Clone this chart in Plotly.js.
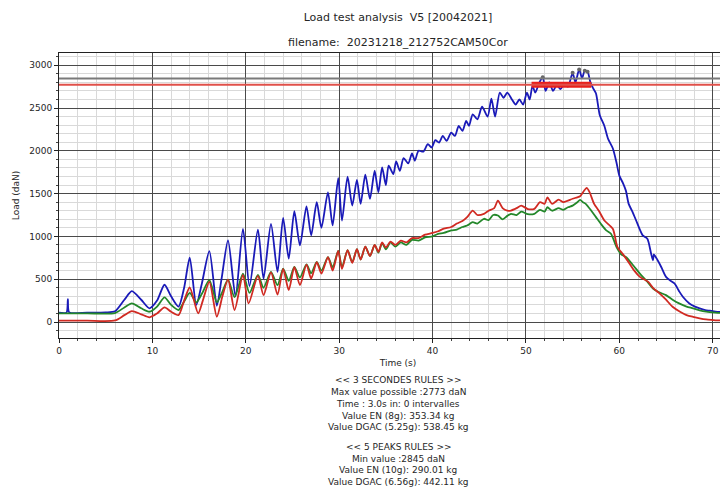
<!DOCTYPE html>
<html>
<head>
<meta charset="utf-8">
<script src="https://cdn.plot.ly/plotly-3.0.1.min.js"></script>
<style>
html,body{margin:0;padding:0;overflow:hidden;background:#fff;width:720px;height:488px;}
#chart{width:760px;height:488px;}
</style>
</head>
<body>
<div id="chart"></div>
<script>
// ---- data ----
const blueT = [0,0.8,0.95,1.1,3,5,6.0,7.0,7.8,8.8,9.7,10.5,11.3,12.0,12.8,13.4,14.0,14.7,15.3,16.1,16.9,17.4,18.1,18.9,19.7,20.4,21.3,21.9,22.7,23.4,24.0,24.6,25.2,25.8,26.5,27.0,27.6,28.1,28.8,29.3,29.9,30.3,30.9,31.4,31.9,32.3,32.8,33.3,33.8,34.2,34.6,35.0,35.3,35.8,36.1,36.5,36.9,37.4,37.8,38.1,38.5,39.0,39.5,39.9,40.3,40.7,41.1,41.5,42.0,42.4,42.8,43.2,43.6,43.9,44.3,44.8,45.3,45.9,46.3,46.7,47.2,47.6,48.0,48.5,48.9,49.3,49.7,50.1,50.4,50.7,51.0,51.4,51.8,52.1,52.5,52.9,53.3,53.7,54.1,54.5,55.0,55.3,55.7,56.0,56.3,56.6,56.9,57.2,57.5,57.9,58.4,58.8,59.3,59.7,60.0,60.4,60.7,61.0,61.4,61.8,62.5,63.0,63.4,63.6,63.7,64.1,64.5,65.0,65.5,65.9,66.4,66.8,67.5,68.1,68.6,69.2,69.7,70.3,71.0,72.6];
const blueV = [108,110,267,112,110,112,125,260,360,260,160,250,435,300,180,400,752,200,450,829,190,500,953,300,1089,420,1078,508,1147,585,1217,740,1294,895,1352,1012,1399,1101,1515,1128,1680,1186,1698,1360,1659,1380,1721,1438,1767,1515,1806,1600,1826,1729,1876,1767,1915,1853,1969,1884,2000,1990,2078,2039,2124,2097,2174,2116,2213,2174,2291,2233,2349,2291,2427,2368,2515,2400,2610,2400,2680,2620,2680,2600,2540,2600,2540,2680,2600,2760,2680,2790,2860,2700,2800,2700,2770,2720,2780,2750,2911,2800,2950,2850,2935,2925,2800,2730,2670,2420,2290,2140,2030,1860,1710,1620,1535,1380,1290,1186,1012,973,800,721,790,721,640,527,480,450,360,295,217,180,159,140,132,122,118,115];

const greenT = [0,3,6.0,7.0,7.8,8.8,9.7,10.5,11.3,12.0,12.8,13.4,14.0,14.7,15.3,16.1,16.9,17.4,18.1,18.8,19.7,20.4,21.3,21.9,22.7,23.4,24.0,24.6,25.2,25.8,26.5,27.0,27.6,28.1,28.8,29.3,29.9,30.3,30.9,31.4,31.9,32.3,32.8,33.3,33.8,34.2,34.6,35.0,35.5,36.0,36.6,37.2,37.8,38.5,39.2,40.0,40.6,41.2,42.0,42.6,43.2,43.7,44.3,44.8,45.5,46.0,46.5,47.0,47.5,48.0,48.4,49.0,49.5,50.2,50.9,51.5,52.0,52.3,52.8,53.5,54.0,54.5,55.0,55.5,55.8,56.1,56.4,57.0,57.5,58.0,58.6,59.1,59.7,60.2,60.7,61.5,62.2,63.0,63.6,64.2,65.0,65.7,66.4,67.2,67.9,68.6,69.3,70.3,71.0,72.6];
const greenV = [100,101,105,170,217,160,120,180,287,200,140,240,341,230,330,490,230,330,495,290,566,340,550,400,585,430,624,480,643,520,674,570,701,600,759,640,830,640,840,700,850,730,880,770,900,810,920,850,930,880,930,900,960,950,990,1000,1030,1040,1070,1080,1110,1128,1166,1150,1206,1190,1250,1244,1200,1240,1264,1250,1290,1260,1264,1310,1290,1341,1300,1330,1310,1341,1360,1399,1426,1400,1380,1300,1225,1150,1070,1031,876,791,759,660,566,470,392,350,314,260,217,180,159,135,120,110,106,104];

const redT = [0,3,6.0,7.0,7.8,8.8,9.7,10.5,11.3,12.0,12.8,13.4,14.0,14.9,15.4,16.1,16.9,17.5,18.1,18.8,19.7,20.3,21.3,21.9,22.7,23.4,24.0,24.6,25.2,25.8,26.5,27.0,27.6,28.1,28.8,29.3,29.9,30.3,30.9,31.4,31.9,32.3,32.8,33.3,33.8,34.2,34.6,35.0,35.5,36.0,36.6,37.2,37.8,38.5,39.2,40.0,40.6,41.2,42.0,42.6,43.2,43.7,44.3,44.8,45.5,46.0,46.6,47.0,47.5,48.0,48.4,49.0,49.5,50.2,50.9,51.5,52.0,52.3,52.8,53.5,54.0,54.5,55.0,55.5,55.8,56.2,56.5,56.8,57.3,57.8,58.4,59.3,59.8,60.4,61.1,61.6,62.2,63.1,63.6,64.3,65.0,65.7,66.5,67.2,67.9,68.6,69.3,70.0,70.3,71.0,72.6];
const redV = [15,15,18,80,128,90,55,100,171,120,81,250,403,101,250,469,62,300,495,140,550,217,540,314,580,320,620,372,640,430,670,508,700,566,759,600,830,620,840,690,850,730,880,770,900,820,930,870,940,900,950,930,980,980,1020,1040,1060,1090,1110,1150,1180,1225,1302,1250,1264,1300,1330,1419,1330,1300,1302,1330,1360,1320,1322,1400,1380,1457,1380,1430,1400,1419,1440,1457,1470,1530,1566,1520,1380,1300,1186,1089,876,790,682,600,527,469,400,334,260,178,120,81,60,43,30,23,20,18,16];

const maxPossible = 2773;   // 3 seconds rule
const minValue = 2845;      // 5 peaks rule
const bandT = [50.6, 57.0];
const peakT = [51.8, 55.0, 55.7, 56.3, 56.6];
const peakV = [2860, 2911, 2950, 2935, 2925];

const titleLine1 = "Load test analysis  V5 [20042021]";
const titleLine2 = "filename:  20231218_212752CAM50Cor";
const xLabel = "Time (s)";
const yLabel = "Load (daN)";
const infoLines = [
  "<< 3 SECONDES RULES >>",
  "Max value possible :2773 daN",
  "Time : 3.0s in: 0 intervalles",
  "Value EN (8g): 353.34 kg",
  "Value DGAC (5.25g): 538.45 kg",
  "",
  "<< 5 PEAKS RULES >>",
  "Min value :2845 daN",
  "Value EN (10g): 290.01 kg",
  "Value DGAC (6.56g): 442.11 kg"
];
const xTicks = [0,10,20,30,40,50,60,70];
const yTicks = [0,500,1000,1500,2000,2500,3000];

// ---- layout geometry ----
const W = 760, H = 488;
const mL = 59, mT = 53, mB = 150, mR = 23;
const plotH = H - mT - mB;
function py2paper(py){ return (H - mB - py) / plotH; }

const font = "DejaVu Sans, Liberation Sans, sans-serif";
const txt = "#262626";

const traces = [
  {x: blueT, y: blueV, mode: "lines", line: {color: "#1a1ab8", width: 1.8, shape: "spline", smoothing: 0.7}, hoverinfo: "skip"},
  {x: greenT, y: greenV, mode: "lines", line: {color: "#23872a", width: 1.8, shape: "spline", smoothing: 0.7}, hoverinfo: "skip"},
  {x: redT, y: redV, mode: "lines", line: {color: "#d02a22", width: 1.8, shape: "spline", smoothing: 0.7}, hoverinfo: "skip"},
  {x: bandT, y: [maxPossible, maxPossible], mode: "lines", line: {color: "#e8201c", width: 6}, hoverinfo: "skip"},
  {x: peakT, y: peakV, mode: "markers", marker: {color: "#666", size: 4}, hoverinfo: "skip"}
];

const annotations = [
  {text: titleLine2, xref: "paper", yref: "paper", x: 0.5, y: py2paper(43), xanchor: "center", yanchor: "middle", showarrow: false, font: {family: font, size: 11, color: txt}}
];
const lineY = [380, 392, 404, 416, 427.5, 0, 447, 459, 470.5, 482];
infoLines.forEach((s, i) => {
  if (!s) return;
  annotations.push({text: s.replace(/</g, "&lt;").replace(/>/g, "&gt;"), xref: "paper", yref: "paper", x: 0.5, y: py2paper(lineY[i]), xanchor: "center", yanchor: "middle", showarrow: false, font: {family: font, size: 9, color: txt}});
});

const axisCommon = {
  showline: true, linecolor: "#222", linewidth: 1, mirror: true,
  ticks: "outside", ticklen: 4, tickcolor: "#222",
  showgrid: true, gridcolor: "#4a4a4a", gridwidth: 1,
  zeroline: false, tickfont: {family: font, size: 9, color: txt}
};

const layout = {
  width: W, height: H,
  margin: {l: mL, r: mR, t: mT, b: mB, pad: 0},
  paper_bgcolor: "#fff", plot_bgcolor: "#fff",
  showlegend: false,
  title: {text: titleLine1, x: 0.5, xref: "paper", y: 1 - 17 / H, yref: "container", xanchor: "center", yanchor: "middle", font: {family: font, size: 11, color: txt}},
  xaxis: Object.assign({}, axisCommon, {
    range: [0, 72.6], tickmode: "array", tickvals: xTicks, ticktext: xTicks.map(String),
    minor: {dtick: 2, showgrid: true, gridcolor: "#d9d9d9", gridwidth: 1, ticks: "outside", ticklen: 2, tickcolor: "#444"},
    title: {text: xLabel, font: {family: font, size: 9, color: txt}, standoff: 4}
  }),
  yaxis: Object.assign({}, axisCommon, {
    range: [-187, 3143], tickmode: "array", tickvals: yTicks, ticktext: yTicks.map(String),
    minor: {dtick: 100, showgrid: true, gridcolor: "#d9d9d9", gridwidth: 1, ticks: "outside", ticklen: 2, tickcolor: "#444"},
    title: {text: yLabel, font: {family: font, size: 9, color: txt}, standoff: 8}
  }),
  shapes: [
    {type: "line", xref: "paper", x0: 0, x1: 1, yref: "y", y0: minValue, y1: minValue, line: {color: "#7a7a7a", width: 2}},
    {type: "line", xref: "paper", x0: 0, x1: 1, yref: "y", y0: maxPossible, y1: maxPossible, line: {color: "#e0504a", width: 2}}
  ],
  annotations: annotations
};

Plotly.newPlot("chart", traces, layout, {staticPlot: true, displayModeBar: false});
</script>
</body>
</html>
